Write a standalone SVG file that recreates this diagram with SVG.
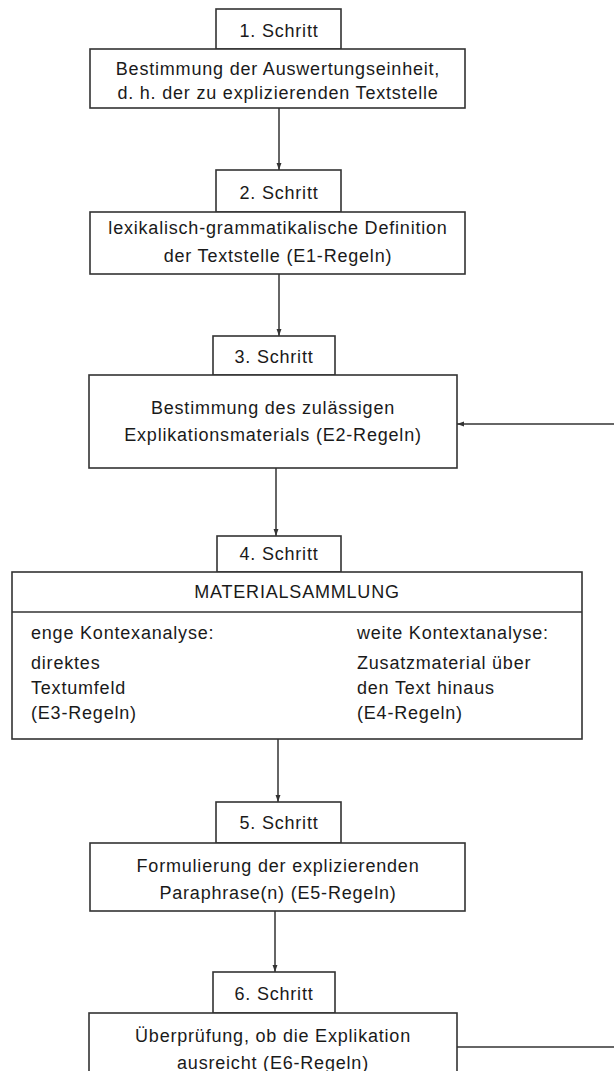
<svg xmlns="http://www.w3.org/2000/svg" width="614" height="1071" viewBox="0 0 614 1071">
<defs>
<style>
.box{fill:#fff;stroke:#333;stroke-width:1.6}
.ln{fill:none;stroke:#333;stroke-width:1.5}
text{font-family:"Liberation Sans",Arial,sans-serif;font-size:18px;fill:#1a1a1a;letter-spacing:0.8px}
.c{text-anchor:middle}
</style>
<marker id="ah2" viewBox="0 0 10 10" refX="10" refY="5" markerWidth="7" markerHeight="7" orient="auto" markerUnits="userSpaceOnUse">
<path d="M0,1.5 L10,5 L0,8.5 z" fill="#333"/>
</marker>
</defs>
<rect width="614" height="1071" fill="#fff"/>
<g id="connectors">
<line class="ln" x1="279" y1="108" x2="279" y2="170" marker-end="url(#ah2)"/>
<line class="ln" x1="279" y1="274" x2="279" y2="336" marker-end="url(#ah2)"/>
<line class="ln" x1="276" y1="468" x2="276" y2="536" marker-end="url(#ah2)"/>
<line class="ln" x1="278" y1="739" x2="278" y2="802" marker-end="url(#ah2)"/>
<line class="ln" x1="275" y1="911" x2="275" y2="972" marker-end="url(#ah2)"/>
<line class="ln" x1="614" y1="424" x2="457" y2="424" marker-end="url(#ah2)"/>
<line class="ln" x1="457" y1="1047" x2="614" y2="1047"/>
<line class="ln" x1="147" y1="687" x2="345" y2="687" marker-end="url(#ah2)"/>
</g>
<g id="step1">
<rect class="box" x="216" y="9" width="125" height="40"/>
<text class="c" x="279" y="37">1. Schritt</text>
<rect class="box" x="90" y="49" width="375" height="59"/>
<text class="c" x="278" y="75">Bestimmung der Auswertungseinheit,</text>
<text class="c" x="278" y="99">d. h. der zu explizierenden Textstelle</text>
</g>
<g id="step2">
<rect class="box" x="216" y="170" width="125" height="42"/>
<text class="c" x="279" y="199">2. Schritt</text>
<rect class="box" x="90" y="212" width="375" height="62"/>
<text class="c" x="278" y="234">lexikalisch-grammatikalische Definition</text>
<text class="c" x="278" y="262">der Textstelle (E1-Regeln)</text>
</g>
<g id="step3">
<rect class="box" x="213" y="336" width="122" height="39"/>
<text class="c" x="274" y="363">3. Schritt</text>
<rect class="box" x="89" y="375" width="368" height="93"/>
<text class="c" x="273" y="414">Bestimmung des zulässigen</text>
<text class="c" x="273" y="441">Explikationsmaterials (E2-Regeln)</text>
</g>
<g id="step4">
<rect class="box" x="217" y="536" width="124" height="36"/>
<text class="c" x="279" y="560">4. Schritt</text>
<rect class="box" x="12" y="572" width="570" height="167"/>
<line class="ln" x1="12" y1="612" x2="582" y2="612"/>
<text class="c" x="297" y="598">MATERIALSAMMLUNG</text>
<text x="31" y="639">enge Kontexanalyse:</text>
<text x="31" y="669">direktes</text>
<text x="31" y="694">Textumfeld</text>
<text x="31" y="719">(E3-Regeln)</text>
<text x="357" y="639">weite Kontextanalyse:</text>
<text x="357" y="669">Zusatzmaterial über</text>
<text x="357" y="694">den Text hinaus</text>
<text x="357" y="719">(E4-Regeln)</text>
</g>
<g id="step5">
<rect class="box" x="216" y="802" width="125" height="41"/>
<text class="c" x="279" y="829">5. Schritt</text>
<rect class="box" x="90" y="843" width="375" height="68"/>
<text class="c" x="278" y="872">Formulierung der explizierenden</text>
<text class="c" x="278" y="899">Paraphrase(n) (E5-Regeln)</text>
</g>
<g id="step6">
<rect class="box" x="213" y="972" width="122" height="41"/>
<text class="c" x="274" y="1000">6. Schritt</text>
<rect class="box" x="89" y="1013" width="368" height="70"/>
<text class="c" x="273" y="1042">Überprüfung, ob die Explikation</text>
<text class="c" x="273" y="1069">ausreicht (E6-Regeln)</text>
</g>
</svg>
